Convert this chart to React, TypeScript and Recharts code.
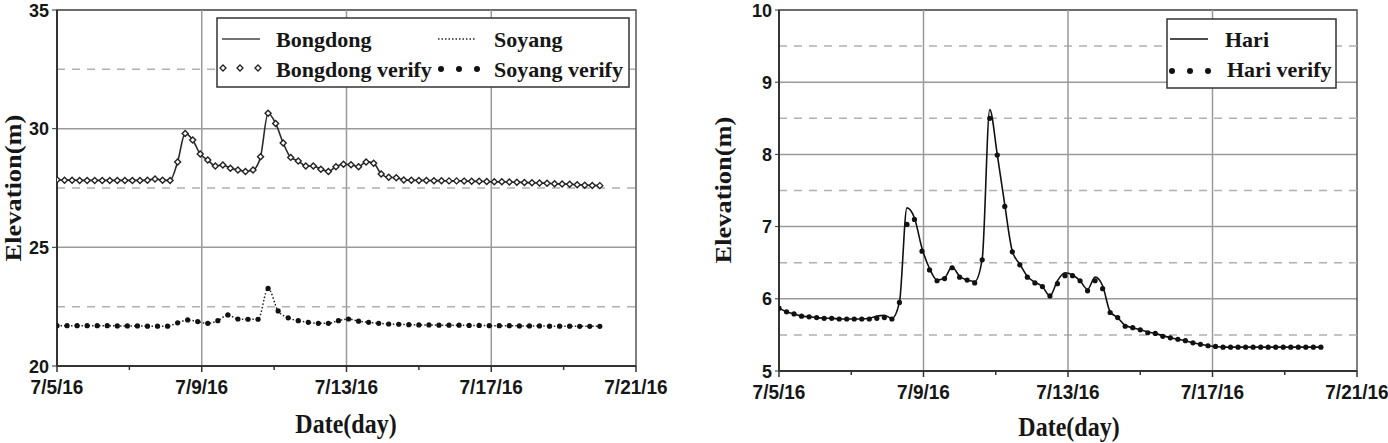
import { LineChart, Line, XAxis, YAxis, CartesianGrid, ReferenceLine, ReferenceArea } from 'recharts';

// x axis: days since 7/5/16 00:00
const dayTicks = [0, 2, 4, 6, 8, 10, 12, 14, 16];
const majorDays = [0, 4, 8, 12, 16];
const majorLabels = ['7/5/16', '7/9/16', '7/13/16', '7/17/16', '7/21/16'];
const gridDays = [4, 8, 12];

const leftTicks = [20, 25, 30, 35];
const leftMinor = [22.5, 27.5, 32.5];
const rightTicks = [5, 6, 7, 8, 9, 10];
const rightMinor = [5.5, 6.5, 7.5, 8.5, 9.5];

// sampling interval of each record, hours
const STEP_H = 5;
const SOYANG_STEP_H = 20 / 3;

const bongdong = [
    27.85, 27.83, 27.83, 27.82, 27.82, 27.82, 27.82, 27.82, 27.82, 27.82, 27.82, 27.82, 27.83, 27.88, 27.83, 27.82,
    28.6, 29.8, 29.52, 28.93, 28.68, 28.43, 28.47, 28.33, 28.26, 28.2, 28.26, 28.82, 30.65, 30.22, 29.4, 28.79,
    28.64, 28.43, 28.43, 28.29, 28.2, 28.4, 28.5, 28.48, 28.4, 28.6, 28.54, 28.09, 27.95, 27.93,
    27.84, 27.83, 27.82, 27.82, 27.81, 27.81, 27.8, 27.8, 27.79, 27.78, 27.78, 27.77, 27.76, 27.76, 27.75, 27.74,
    27.73, 27.72, 27.71, 27.7, 27.68, 27.67, 27.66, 27.64, 27.62, 27.61, 27.6,
];

const soyang = [
    21.7, 21.7, 21.7, 21.7, 21.7, 21.7, 21.69, 21.69, 21.69, 21.68, 21.68, 21.68,
    21.82, 21.94, 21.87, 21.8, 21.91, 22.15, 21.98, 21.97, 21.97, 23.27, 22.32, 22.03, 21.91, 21.84, 21.8, 21.8,
    21.91, 21.98, 21.89, 21.84, 21.8, 21.77, 21.76,
    21.74, 21.73, 21.73, 21.72, 21.72, 21.72, 21.71, 21.71, 21.7, 21.7, 21.7, 21.69, 21.69, 21.69, 21.68, 21.68,
    21.68, 21.67, 21.67, 21.67,
];

const hari = [
    5.87, 5.82, 5.79, 5.76, 5.75, 5.74, 5.73, 5.73, 5.72, 5.72, 5.72, 5.72, 5.73, 5.76, 5.77, 5.73,
    5.95, 7.26, 7.12, 6.7, 6.42, 6.26, 6.29, 6.44, 6.31, 6.26, 6.24, 6.55, 8.62, 8.0, 7.3, 6.66,
    6.48, 6.31, 6.23, 6.17, 6.04, 6.25, 6.36, 6.33, 6.25, 6.13, 6.3, 6.18, 5.82, 5.74, 5.63, 5.6,
    5.57, 5.54, 5.52, 5.49, 5.46, 5.44, 5.42, 5.39, 5.37, 5.35, 5.34, 5.33, 5.33, 5.33, 5.33, 5.33,
    5.33, 5.33, 5.33, 5.33, 5.33, 5.33, 5.33, 5.33, 5.33,
];

const hariVerify = [
    5.87, 5.82, 5.79, 5.76, 5.75, 5.74, 5.73, 5.73, 5.72, 5.72, 5.72, 5.72, 5.72, 5.73, 5.74, 5.72,
    5.95, 7.03, 7.1, 6.66, 6.4, 6.25, 6.28, 6.43, 6.3, 6.26, 6.22, 6.54, 8.5, 7.99, 7.28, 6.65,
    6.47, 6.3, 6.22, 6.17, 6.04, 6.21, 6.32, 6.32, 6.25, 6.11, 6.25, 6.14, 5.81, 5.74, 5.62, 5.6,
    5.57, 5.53, 5.52, 5.48, 5.46, 5.44, 5.42, 5.39, 5.37, 5.35, 5.34, 5.33, 5.33, 5.33, 5.33, 5.33,
    5.33, 5.33, 5.33, 5.33, 5.33, 5.33, 5.33, 5.33, 5.33,
];

const toRows = (vals: number[], stepH: number) => vals.map((v, i) => ({ t: (i * stepH) / 24, v }));

const bongRows = toRows(bongdong, STEP_H);
const soyangRows = toRows(soyang, SOYANG_STEP_H);
const hariRows = toRows(hari, STEP_H);
const hariVerifyRows = toRows(hariVerify, STEP_H);

const SANS = '"Liberation Sans", Arial, sans-serif';
const SERIF = '"Liberation Serif", "Times New Roman", serif';
const INK = '#161616';

function DateTick({ x, y, payload }: any) {
    const k = majorDays.indexOf(payload.value);
    return (
        <g>
            <line x1={x} x2={x} y1={y} y2={y + (k >= 0 ? 6 : 4)} stroke="#333" strokeWidth={1.5} />
            {k >= 0 && (
                <text
                    transform={`translate(${x},${y + 28}) scale(1,1.1)`}
                    textAnchor="middle"
                    fontFamily={SANS}
                    fontWeight="bold"
                    fontSize={19}
                    fill={INK}
                >
                    {majorLabels[k]}
                </text>
            )}
        </g>
    );
}

function ValueTick({ x, y, payload }: any) {
    return (
        <text
            transform={`translate(${x},${y + 6.5}) scale(1,1.05)`}
            textAnchor="end"
            fontFamily={SANS}
            fontWeight="bold"
            fontSize={18}
            fill={INK}
        >
            {payload.value}
        </text>
    );
}

const diamondDot = (p: any) => {
    const { cx, cy, index } = p;
    if (cx == null || cy == null) return <g key={index} />;
    const s = 3;
    return (
        <path
            key={index}
            d={`M${cx},${cy - s}L${cx + s},${cy}L${cx},${cy + s}L${cx - s},${cy}Z`}
            fill="#fff"
            stroke="#222"
            strokeWidth={1.4}
        />
    );
};

const roundDot = (p: any) => {
    const { cx, cy, index } = p;
    if (cx == null || cy == null) return <g key={index} />;
    return <circle key={index} cx={cx} cy={cy} r={2.6} fill="#111" />;
};

const axisLine = { stroke: '#333', strokeWidth: 2 };

export default function App() {
    return (
        <div style={{ position: 'absolute', left: 0, top: 0, width: 1388, height: 443, background: '#fff', overflow: 'hidden' }}>
            {/* Bongdong / Soyang */}
            <div style={{ position: 'absolute', left: 0, top: 0 }}>
                <LineChart width={700} height={443} margin={{ top: 10, right: 64, bottom: 37, left: 10 }}>
                    <CartesianGrid vertical={false} stroke="#9a9a9a" strokeWidth={1.5} />
                    {leftMinor.map((v) => (
                        <ReferenceLine key={v} y={v} stroke="#b0b0b0" strokeWidth={1.5} strokeDasharray="8 7" />
                    ))}
                    {gridDays.map((d) => (
                        <ReferenceLine key={d} x={d} stroke="#9a9a9a" strokeWidth={1.5} />
                    ))}
                    <ReferenceArea x1={0} x2={16} y1={20} y2={35} fill="none" stroke="#555" strokeWidth={1.5} />
                    <XAxis
                        type="number"
                        dataKey="t"
                        domain={[0, 16]}
                        ticks={dayTicks}
                        interval={0}
                        tick={<DateTick />}
                        tickLine={false}
                        tickSize={0}
                        tickMargin={0}
                        height={40}
                        axisLine={axisLine}
                        allowDataOverflow
                    />
                    <YAxis
                        type="number"
                        domain={[20, 35]}
                        ticks={leftTicks}
                        interval={0}
                        width={47}
                        tickSize={5}
                        tickMargin={3}
                        tick={<ValueTick />}
                        tickLine={{ stroke: '#333' }}
                        axisLine={axisLine}
                        allowDataOverflow
                    />
                    <Line data={bongRows} dataKey="v" type="monotone" stroke="#2a2a2a" strokeWidth={1.6} dot={false} isAnimationActive={false} />
                    <Line data={bongRows} dataKey="v" stroke="none" dot={diamondDot} isAnimationActive={false} />
                    <Line data={soyangRows} dataKey="v" type="monotone" stroke="#222" strokeWidth={1.5} strokeDasharray="1.5 2" dot={false} isAnimationActive={false} />
                    <Line data={soyangRows} dataKey="v" stroke="none" dot={roundDot} isAnimationActive={false} />
                </LineChart>
            </div>

            {/* Hari */}
            <div style={{ position: 'absolute', left: 700, top: 0 }}>
                <LineChart width={688} height={443} margin={{ top: 10, right: 31, bottom: 32, left: 32 }}>
                    <CartesianGrid vertical={false} stroke="#9a9a9a" strokeWidth={1.5} />
                    {rightMinor.map((v) => (
                        <ReferenceLine key={v} y={v} stroke="#b0b0b0" strokeWidth={1.5} strokeDasharray="8 7" />
                    ))}
                    {gridDays.map((d) => (
                        <ReferenceLine key={d} x={d} stroke="#9a9a9a" strokeWidth={1.5} />
                    ))}
                    <ReferenceArea x1={0} x2={16} y1={5} y2={10} fill="none" stroke="#555" strokeWidth={1.5} />
                    <XAxis
                        type="number"
                        dataKey="t"
                        domain={[0, 16]}
                        ticks={dayTicks}
                        interval={0}
                        tick={<DateTick />}
                        tickLine={false}
                        tickSize={0}
                        tickMargin={0}
                        height={40}
                        axisLine={axisLine}
                        allowDataOverflow
                    />
                    <YAxis
                        type="number"
                        domain={[5, 10]}
                        ticks={rightTicks}
                        interval={0}
                        width={47}
                        tickSize={4}
                        tickMargin={3}
                        tick={<ValueTick />}
                        tickLine={{ stroke: '#333' }}
                        axisLine={axisLine}
                        allowDataOverflow
                    />
                    <Line data={hariRows} dataKey="v" type="monotone" stroke="#111" strokeWidth={1.6} dot={false} isAnimationActive={false} />
                    <Line data={hariVerifyRows} dataKey="v" stroke="none" dot={roundDot} isAnimationActive={false} />
                </LineChart>
            </div>

            {/* titles and legends */}
            <svg width={1388} height={443} style={{ position: 'absolute', left: 0, top: 0, pointerEvents: 'none' }}>
                <g fontFamily={SERIF} fontWeight="bold" fill={INK}>
                    <text transform="translate(21,188) rotate(-90) scale(1.15,1)" textAnchor="middle" fontSize={23}>Elevation(m)</text>
                    <text transform="translate(731,190) rotate(-90) scale(1.15,1)" textAnchor="middle" fontSize={23}>Elevation(m)</text>
                    <text transform="translate(346,433) scale(1,1.1)" textAnchor="middle" fontSize={24}>Date(day)</text>
                    <text transform="translate(1069,436) scale(1,1.1)" textAnchor="middle" fontSize={24}>Date(day)</text>
                </g>

                {/* left legend */}
                <rect x={217} y={18} width={412} height={69} fill="#fff" stroke="#333" strokeWidth={1.5} />
                <line x1={222} x2={260} y1={39} y2={39} stroke="#444" strokeWidth={1.5} />
                <line x1={438} x2={476} y1={39} y2={39} stroke="#222" strokeWidth={1.5} strokeDasharray="1.5 2" />
                {[223, 240, 258].map((cx) => (
                    <path key={cx} d={`M${cx},${65}L${cx + 3},${68}L${cx},${71}L${cx - 3},${68}Z`} fill="#fff" stroke="#222" strokeWidth={1.3} />
                ))}
                {[441, 459, 477].map((cx) => (
                    <circle key={cx} cx={cx} cy={69} r={3} fill="#111" />
                ))}
                <g fontFamily={SERIF} fontWeight="bold" fontSize={22} fill={INK}>
                    <text x={276} y={47}>Bongdong</text>
                    <text x={494} y={47}>Soyang</text>
                    <text x={276} y={77}>Bongdong verify</text>
                    <text x={494} y={77}>Soyang verify</text>
                </g>

                {/* right legend */}
                <rect x={1167} y={19} width={169} height={69} fill="#fff" stroke="#333" strokeWidth={1.5} />
                <line x1={1170} x2={1208} y1={39} y2={39} stroke="#111" strokeWidth={1.5} />
                {[1172, 1190, 1208].map((cx) => (
                    <circle key={cx} cx={cx} cy={71} r={3} fill="#111" />
                ))}
                <g fontFamily={SERIF} fontWeight="bold" fontSize={22} fill={INK}>
                    <text x={1225} y={47}>Hari</text>
                    <text x={1227} y={77}>Hari verify</text>
                </g>
            </svg>
        </div>
    );
}
